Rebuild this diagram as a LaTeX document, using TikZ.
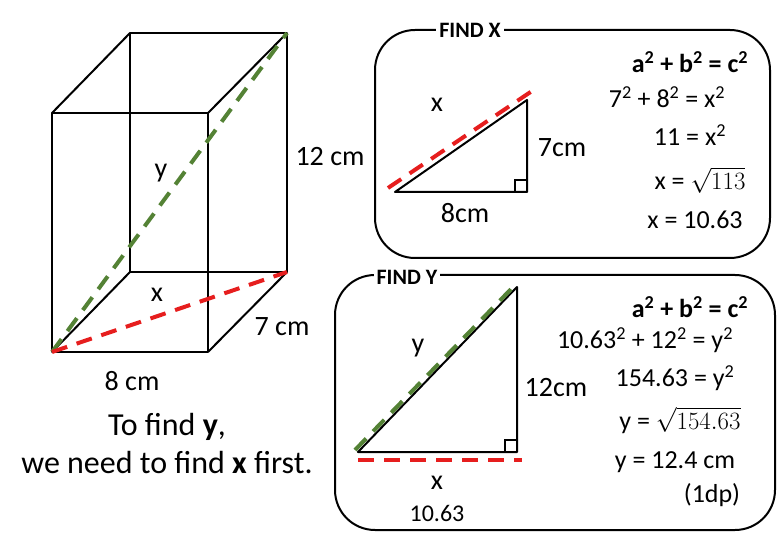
\documentclass[tikz,border=0pt]{standalone}
\usepackage{fontspec}
\setmainfont{Carlito}
\newcommand{\sqr}{\textsuperscript{2}}
\begin{document}
\begin{tikzpicture}[x=1pt,y=-1pt,
  edge/.style={line width=2pt,line join=round},
  gdash/.style={line width=4pt,dash pattern=on 16pt off 10pt,draw={rgb,255:red,84;green,130;blue,53}},
  rdash/.style={line width=4pt,dash pattern=on 16pt off 10pt,draw={rgb,255:red,230;green,30;blue,30}},
  lab/.style={font=\fontsize{28}{32}\selectfont},
  eq/.style={font=\fontsize{26}{26}\selectfont,inner sep=0pt},
  ttl/.style={font=\bfseries\fontsize{22}{24}\selectfont,fill=white,inner sep=3pt}]
\useasboundingbox (0,0) rectangle (780,540);
% prism
\coordinate (A) at (52,352); \coordinate (B) at (208,352);
\coordinate (C) at (208,113); \coordinate (D) at (52,113);
\coordinate (E) at (130,272); \coordinate (F) at (287,272);
\coordinate (G) at (287,33); \coordinate (H) at (130,33);
\draw[edge] (A)--(B)--(C)--(D)--cycle;
\draw[edge] (E)--(F)--(G)--(H)--cycle;
\draw[edge] (A)--(E) (B)--(F) (C)--(G) (D)--(H);
\draw[gdash] (A)--(G);
\draw[rdash] (A)--(F);
\node[lab] (ly) at (161,173) {y};
\node[lab] (lx) at (157,295) {x};
\node[lab] (l12) at (330,157) {12 cm};
\node[lab] (l7) at (282,327) {7 cm};
\node[lab] (l8) at (132,381) {8 cm};
\node[font=\fontsize{32}{36}\selectfont] (t1) at (167,427) {To find \textbf{y},};
\node[font=\fontsize{32}{36}\selectfont] (t2) at (167,463) {we need to find \textbf{x} first.};
% FIND X box
\draw[edge,rounded corners=40pt] (375,30) rectangle (770,258);
\node[ttl] (tx) at (470,30) {FIND X};
\coordinate (P1) at (395,192); \coordinate (P2) at (527,192); \coordinate (P3) at (527,100);
\draw[edge] (P1)--(P2)--(P3)--cycle;
\draw[line width=2pt] (515,192)|-(527,180);
\coordinate (r1) at (388,188); \coordinate (r2) at (532,91);
\draw[rdash] (r1)--(r2);
\node[lab] (xx) at (437,105) {x};
\node[lab] (x7) at (562,148) {7cm};
\node[lab] (x8) at (465,213) {8cm};
\node[eq,font=\bfseries\fontsize{26}{26}\selectfont] (e1) at (690,62) {a\sqr{} + b\sqr{} = c\sqr};
\node[eq] (e2) at (667,97) {7\sqr{} + 8\sqr{} = x\sqr};
\node[eq] (e3) at (690,135) {11 = x\sqr};
\node[eq] (e4) at (700,180) {x = $\sqrt{113}$};
\node[eq] (e5) at (695,220) {x = 10.63};
% FIND Y box
\draw[edge,rounded corners=40pt] (335,275) rectangle (775,530);
\node[ttl] (ty) at (407,277) {FIND Y};
\coordinate (Q1) at (358,452); \coordinate (Q2) at (517,452); \coordinate (Q3) at (517,287);
\draw[edge] (Q1)--(Q2)--(Q3)--cycle;
\draw[line width=2pt] (505,452)|-(517,440);
\coordinate (g1) at (355,450); \coordinate (g2) at (515,285);
\draw[gdash] (g1)--(g2);
\coordinate (h1) at (358,460); \coordinate (h2) at (522,460);
\draw[rdash] (h1)--(h2);
\node[lab] (yy) at (418,348) {y};
\node[lab] (y12) at (556,388) {12cm};
\node[lab] (yx) at (437,483) {x};
\node[lab,font=\fontsize{24}{28}\selectfont] (y10) at (437,513) {10.63};
\node[eq,font=\bfseries\fontsize{26}{26}\selectfont] (f1) at (690,307) {a\sqr{} + b\sqr{} = c\sqr};
\node[eq] (f2) at (645,340) {10.63\sqr{} + 12\sqr{} = y\sqr};
\node[eq] (f3) at (675,378) {154.63 = y\sqr};
\node[eq] (f4) at (680,420) {y = $\sqrt{154.63}$};
\node[eq] (f5) at (675,462) {y = 12.4 cm};
\node[eq] (f6) at (712,495) {(1dp)};
\end{tikzpicture}
\end{document}
